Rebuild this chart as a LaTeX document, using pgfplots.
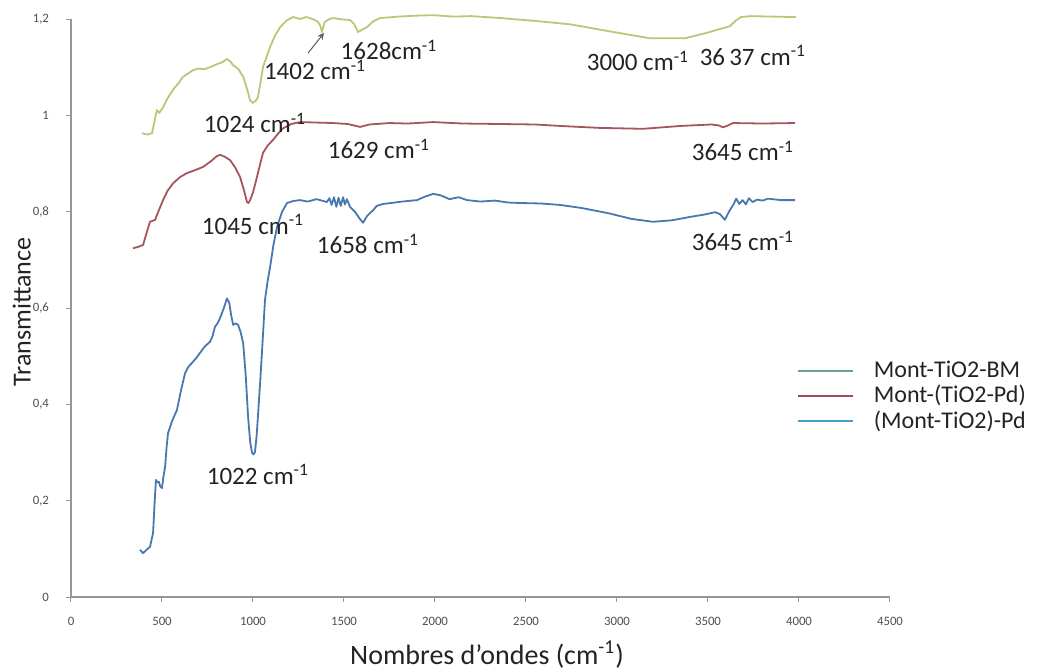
\documentclass[border=0pt]{standalone}
\usepackage{fontspec}
\setmainfont{Carlito}
\usepackage{pgfplots}
\pgfplotsset{compat=1.18}
\definecolor{cgreen}{RGB}{188,198,120}
\definecolor{cred}{RGB}{165,85,92}
\definecolor{cblue}{RGB}{72,120,175}
\definecolor{lgreen}{RGB}{100,165,135}
\definecolor{lred}{RGB}{160,75,88}
\definecolor{lblue}{RGB}{70,160,200}
\definecolor{txt}{RGB}{35,35,35}
\definecolor{axgray}{RGB}{150,150,150}
\newcommand{\lab}[1]{#1~cm\textsuperscript{-1}}
\begin{document}
\begin{tikzpicture}
\useasboundingbox (-35.5pt,-37pt) rectangle (486.5pt,298.5pt);
\begin{axis}[
  at={(0,0)}, anchor=south west,
  scale only axis, width=409.5pt, height=289pt,
  xmin=0, xmax=4500, ymin=0, ymax=1.2,
  axis x line*=bottom, axis y line*=left,
  axis line style={axgray, line width=0.6pt, -},
  xtick={0,500,...,4500}, ytick={0,0.2,...,1.2},
  tick style={axgray, line width=0.5pt},
  tick align=outside, major tick length=2.5pt,
  /pgf/number format/assume math mode=true,
  /pgf/number format/use comma,
  /pgf/number format/1000 sep={},
  xticklabel style={font=\fontsize{6.4}{7}\selectfont, text=txt!80, yshift=-4pt},
  yticklabel style={font=\fontsize{6.4}{7}\selectfont, text=txt!80, xshift=-5pt},
  xlabel={Nombres d'ondes (cm\textsuperscript{-1})},
  ylabel={Transmittance},
  xlabel style={font=\fontsize{14}{16}\selectfont, text=txt, at={(axis description cs:0.508,-0.1)}, anchor=center},
  ylabel style={font=\fontsize{13}{15}\selectfont, text=txt, at={(axis description cs:-0.06,0.493)}, anchor=center},
  legend style={at={(axis cs:3985,0.497)}, anchor=north west, draw=none, fill=none,
    font=\fontsize{12}{14}\selectfont, text=txt, row sep=-0.6pt, inner sep=0pt,
    column sep=8.5pt, nodes={inner sep=1.5pt}},
  legend cell align=left,
  legend image code/.code={\draw[#1, line width=1.1pt] (0pt,0pt) -- (27.5pt,0pt);},
  every axis plot/.append style={line width=0.9pt, line join=round},
  clip=false,
]
% Mont-TiO2-BM
\addplot[cgreen, forget plot] coordinates {
(390,0.963) (420,0.960) (445,0.963) (460,0.990) (472,1.011) (485,1.005) (506,1.017) (530,1.035) (561,1.053)
(575,1.060) (590,1.066) (605,1.075) (616,1.080) (640,1.086) (671,1.094) (700,1.097) (735,1.096) (764,1.100) (800,1.106) (830,1.110) (857,1.117)
(875,1.112) (891,1.104) (920,1.096) (946,1.080) (965,1.058) (984,1.031) (1000,1.026) (1015,1.030) (1027,1.038)
(1040,1.065) (1055,1.100) (1075,1.122) (1094,1.142) (1120,1.165) (1149,1.183) (1185,1.197) (1220,1.204) (1260,1.200)
(1290,1.204) (1313,1.202) (1340,1.198) (1357,1.194) (1370,1.186) (1379,1.173) (1388,1.186) (1395,1.194) (1420,1.200)
(1440,1.202) (1490,1.199) (1533,1.198) (1555,1.190) (1577,1.173) (1600,1.178) (1626,1.183) (1660,1.195) (1698,1.202)
(1800,1.205) (1900,1.207) (1990,1.208) (2100,1.205) (2200,1.206) (2358,1.202) (2550,1.196) (2742,1.189)
(2950,1.175) (3181,1.160) (3374,1.160) (3500,1.172) (3582,1.181) (3621,1.185) (3650,1.196) (3681,1.204)
(3736,1.206) (3850,1.205) (3984,1.204)};
% Mont-(TiO2-Pd)
\addplot[cred, forget plot] coordinates {
(341,0.724) (370,0.727) (396,0.731) (415,0.755) (434,0.779) (448,0.781) (462,0.783) (485,0.805) (506,0.824)
(530,0.843) (561,0.859) (600,0.872) (637,0.880) (680,0.886) (726,0.893) (770,0.905) (800,0.915) (819,0.918)
(845,0.914) (874,0.907) (900,0.893) (929,0.872) (950,0.845) (967,0.820) (975,0.818) (984,0.824) (1000,0.840)
(1022,0.872) (1040,0.900) (1055,0.922) (1080,0.937) (1110,0.949) (1140,0.963) (1165,0.973) (1210,0.982) (1258,0.986)
(1350,0.985) (1440,0.984) (1520,0.982) (1588,0.976) (1640,0.981) (1750,0.984) (1850,0.983) (1990,0.986)
(2150,0.983) (2358,0.982) (2550,0.981) (2687,0.978) (2900,0.974) (3143,0.972) (3350,0.978) (3520,0.981)
(3560,0.979) (3582,0.975) (3610,0.979) (3637,0.984) (3800,0.983) (3978,0.984)};
% (Mont-TiO2)-Pd
\addplot[cblue, forget plot] coordinates {
(379,0.098) (396,0.091) (415,0.098) (434,0.104) (451,0.133) (460,0.200) (467,0.243) (475,0.238) (483,0.239)
(490,0.230) (500,0.226) (508,0.250) (517,0.270) (525,0.310) (533,0.340) (555,0.365) (582,0.388) (605,0.430)
(627,0.465) (645,0.478) (665,0.486) (690,0.497) (709,0.507) (735,0.520) (764,0.530) (778,0.542) (791,0.561)
(805,0.568) (819,0.579) (838,0.598) (857,0.620) (870,0.610) (880,0.585) (891,0.565) (905,0.568) (918,0.565)
(932,0.550) (946,0.527) (960,0.460) (973,0.374) (985,0.320) (995,0.299) (1003,0.296) (1011,0.301) (1020,0.335)
(1027,0.374) (1040,0.450) (1050,0.513) (1066,0.617) (1080,0.655) (1094,0.685) (1112,0.730) (1132,0.768)
(1160,0.800) (1187,0.818) (1220,0.822) (1258,0.824) (1300,0.821) (1350,0.826) (1406,0.820) (1420,0.828)
(1432,0.814) (1445,0.830) (1458,0.810) (1470,0.829) (1482,0.812) (1495,0.830) (1505,0.815) (1516,0.826)
(1533,0.810) (1560,0.800) (1585,0.786) (1605,0.777) (1625,0.790) (1643,0.797) (1660,0.803) (1680,0.812)
(1714,0.816) (1760,0.818) (1820,0.821) (1901,0.824) (1950,0.832) (1990,0.837) (2030,0.834) (2080,0.826)
(2130,0.830) (2176,0.824) (2250,0.821) (2330,0.823) (2400,0.819) (2468,0.818) (2580,0.817) (2687,0.814)
(2800,0.808) (2950,0.797) (3080,0.785) (3198,0.779) (3300,0.782) (3400,0.789) (3480,0.794) (3540,0.799)
(3565,0.795) (3593,0.783) (3615,0.800) (3640,0.815) (3655,0.827) (3672,0.816) (3690,0.824) (3708,0.815)
(3725,0.828) (3745,0.820) (3770,0.825) (3800,0.823) (3830,0.827) (3900,0.824) (3978,0.824)};
\addlegendimage{lgreen}
\addlegendentry{Mont-TiO2-BM}
\addlegendimage{lred}
\addlegendentry{Mont-(TiO2-Pd)}
\addlegendimage{lblue}
\addlegendentry{(Mont-TiO2)-Pd}
% annotations
\begin{scope}[every node/.style={font=\fontsize{12.5}{14}\selectfont, text=txt}]
\node at (axis cs:1341,1.094) {\lab{1402}};
\node at (axis cs:1747,1.136) {1628cm\textsuperscript{-1}};
\node at (axis cs:3115,1.113) {\lab{3000}};
\node at (axis cs:3747,1.125) {\lab{36\,37}};
\node at (axis cs:1011,0.984) {\lab{1024}};
\node at (axis cs:1692,0.930) {\lab{1629}};
\node at (axis cs:3692,0.926) {\lab{3645}};
\node at (axis cs:1000,0.774) {\lab{1045}};
\node at (axis cs:1632,0.733) {\lab{1658}};
\node at (axis cs:3692,0.739) {\lab{3645}};
\node at (axis cs:1027,0.255) {\lab{1022}};
\end{scope}
\draw[->, >=stealth, gray!70!black, line width=0.5pt] (axis cs:1302,1.129) -- (axis cs:1390,1.171);
\end{axis}
\end{tikzpicture}
\end{document}
